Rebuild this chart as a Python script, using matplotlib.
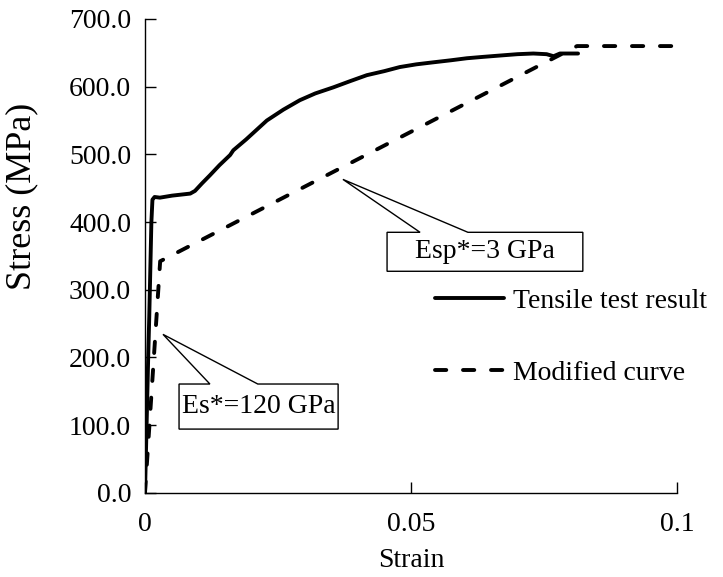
import matplotlib.pyplot as plt
from matplotlib.patches import Polygon

# tensile test
test_strain = [0.0, 0.0003, 0.0006, 0.0008, 0.0010, 0.0012, 0.0014, 0.0018, 0.0028, 0.0051,
               0.0085, 0.0094, 0.0107, 0.0122, 0.0140, 0.0160, 0.0166, 0.0190, 0.0229,
               0.0260, 0.0291, 0.0320, 0.0354, 0.0385, 0.0417, 0.0450, 0.0479, 0.0510,
               0.0542, 0.0575, 0.0605, 0.0635, 0.0667, 0.0700, 0.0730, 0.0755, 0.0768,
               0.0780, 0.0814]
test_stress = [0.0, 100.0, 200.0, 260.0, 330.0, 400.0, 433.0, 437.0, 436.0, 439.0,
               442.0, 446.0, 457.0, 469.0, 484.0, 499.0, 506.0, 522.0, 550.0,
               566.0, 580.0, 590.0, 599.0, 608.0, 617.0, 623.0, 629.0, 633.0,
               636.0, 639.0, 642.0, 644.0, 646.0, 648.0, 649.0, 648.0, 645.0,
               649.0, 649.0]

# modified (bilinear) curve
mod_strain = [0.0, 0.00285, 0.0812, 0.1]
mod_stress = [0.0, 342.0, 660.0, 660.0]

legend_labels = ['Tensile test result', 'Modified curve']
x_ticks = [0, 0.05, 0.1]
x_ticklabels = ['0', '0.05', '0.1']
y_ticks = [0, 100, 200, 300, 400, 500, 600, 700]

# callouts: text, tip (strain, stress), box x-range, box y-range, wedge base x-range
callouts = [
    ('Es*=120 GPa', (0.00338, 234.0), (0.0064, 0.0363), (94.0, 160.6), (0.0122, 0.0212)),
    ('Esp*=3 GPa', (0.0372, 463.0), (0.0455, 0.0823), (327.2, 384.8), (0.0517, 0.0607)),
]

plt.rcParams['font.family'] = ['Liberation Serif', 'DejaVu Serif']
FS = 20

fig = plt.figure(figsize=(7.23, 5.77), dpi=100)
ax = fig.add_axes([145 / 723, 1 - 492.7 / 577, (677 - 145) / 723, (492.7 - 19) / 577])

ax.plot(test_strain, test_stress, color='black', linewidth=2.8,
        solid_joinstyle='round', solid_capstyle='round', label=legend_labels[0])
ax.plot(mod_strain, mod_stress, color='black', linewidth=2.8,
        linestyle=(0, (2.9, 4.3)), dash_capstyle='round', label=legend_labels[1])

for text, tip, bx, by, base in callouts:
    pts = [(bx[0], by[0]), (bx[1], by[0]), (bx[1], by[1]), (base[1], by[1]),
           tip, (base[0], by[1]), (bx[0], by[1])]
    ax.add_patch(Polygon(pts, closed=True, facecolor='white', edgecolor='black',
                         linewidth=1.0, zorder=5))
    ax.text((bx[0] + bx[1]) / 2, (by[0] + by[1]) / 2, text, ha='center', va='center',
            fontsize=FS, zorder=6)

ax.set_xlim(0, 0.1)
ax.set_ylim(0, 700)
ax.set_xticks(x_ticks)
ax.set_xticklabels(x_ticklabels)
ax.set_yticks(y_ticks)
ax.set_yticklabels([f'{v:.1f}' for v in y_ticks])
ax.tick_params(direction='in', length=8, width=1, labelsize=FS, pad=10)
ax.tick_params(axis='x', pad=14)
for s in ['top', 'right']:
    ax.spines[s].set_visible(False)
for s in ['left', 'bottom']:
    ax.spines[s].set_linewidth(1.0)

ax.set_xlabel('Strain', fontsize=FS, labelpad=8)
ax.set_ylabel('Stress (MPa)', fontsize=26)
ax.yaxis.set_label_coords(-0.2, 0.626)

ax.legend(loc='center left', bbox_to_anchor=(435 / 723, 1 - 337 / 577),
          bbox_transform=fig.transFigure, frameon=False, fontsize=FS,
          handlelength=2.5, handletextpad=0.3, labelspacing=1.68, borderpad=0,
          borderaxespad=0)

fig.savefig('out.png', dpi=100)
